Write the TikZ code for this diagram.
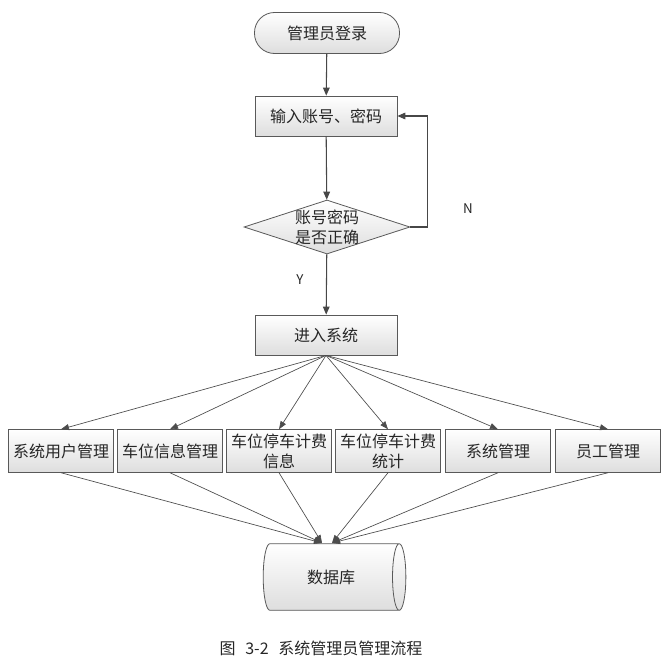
\documentclass[tikz,border=0pt]{standalone}
\usepackage{fontspec}
\setmainfont{Noto Sans CJK SC}
\usetikzlibrary{shapes.geometric,arrows.meta}

\begin{document}
\begin{tikzpicture}[
  x=0.75pt, y=-0.75pt,
  every node/.style={font=\fontsize{12}{15}\selectfont, text=black!85},
  flowline/.style={draw=black!72, line width=0.8pt,
    -{Triangle[length=6pt,width=5pt]}},
  fanline/.style={draw=black!70, line width=0.5pt,
    -{Triangle[length=6pt,width=4.5pt]}},
  procbox/.style={rectangle, draw=black!65, line width=0.6pt,
    top color=white, bottom color=black!13, minimum width=106.5pt,
    minimum height=30pt, align=center, inner sep=1pt},
  subbox/.style={procbox, minimum width=78.75pt, minimum height=32pt,
    text width=77pt},
  termbox/.style={procbox, rounded corners=15pt, minimum width=108.75pt,
    minimum height=30.75pt},
  checkbox/.style={diamond, draw=black!65, line width=0.6pt,
    top color=white, bottom color=black!13, minimum width=124.5pt,
    minimum height=40.5pt, inner sep=0pt},
  storebox/.style={cylinder, draw=black!65, line width=0.6pt,
    top color=white, bottom color=black!13, minimum height=107pt,
    minimum width=50pt, aspect=0.9, inner sep=0pt},
]
\useasboundingbox (0,0) rectangle (668,671);

% Login and check
\node[termbox] (start) at (327,33) {管理员登录};
\node[procbox] (inp) at (326,116) {输入账号、密码};
\node[checkbox] (chk) at (327,227) {};
\node[align=center, inner sep=0pt] (chktext) at (chk.center)
  {账号密码\\是否正确};
\node[procbox] (sys) at (326,335) {进入系统};

\draw[flowline] (start) -- (inp);
\draw[flowline] (inp) -- (chk);
\draw[flowline] (chk) -- (sys);
\draw[flowline] (chk.east) -- ++(17,0) |- (inp.east);

\node[font=\fontsize{10}{12}\selectfont] (lblN) at (468,209) {N};
\node[font=\fontsize{10}{12}\selectfont] (lblY) at (300,280) {Y};

% Function modules
\node[subbox] (m1) at (61,451) {系统用户管理};
\node[subbox] (m2) at (170,451) {车位信息管理};
\node[subbox] (m3) at (279,451) {车位停车计费\\信息};
\node[subbox] (m4) at (388,451) {车位停车计费\\统计};
\node[subbox] (m5) at (498,451) {系统管理};
\node[subbox] (m6) at (608,451) {员工管理};

\foreach \m in {m1,m2,m3,m4,m5,m6}
  \draw[fanline] (sys.south) -- (\m.north);

% Database
\node[storebox] (db) at (331,577) {数据库};
\coordinate (dbL) at (322,543);
\coordinate (dbR) at (332,543);

\foreach \m in {m1,m2,m3}
  \draw[fanline] (\m.south) -- (dbL);
\foreach \m in {m4,m5,m6}
  \draw[fanline] (\m.south) -- (dbR);

% Caption
\node (cap) at (321,648) {图\hspace{0.6em}3-2\hspace{0.6em}系统管理员管理流程};

\end{tikzpicture}
\end{document}
